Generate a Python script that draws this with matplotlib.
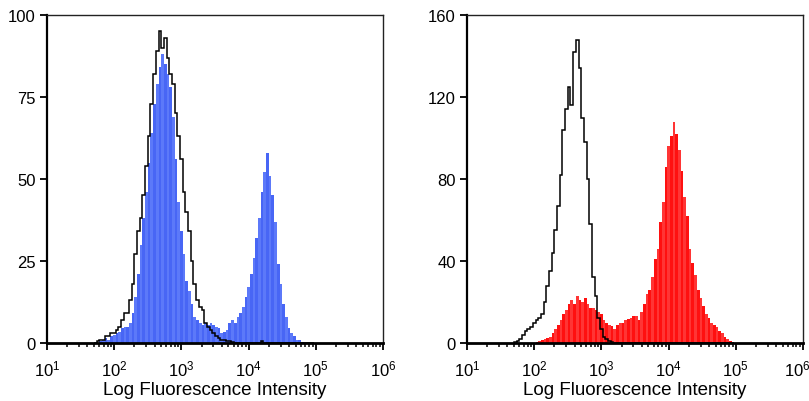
import numpy as np
import matplotlib
matplotlib.use("Agg")
import matplotlib.pyplot as plt
from matplotlib.ticker import LogLocator, FixedLocator
from matplotlib.transforms import ScaledTranslation

plt.rcParams['font.family'] = ['Liberation Sans', 'DejaVu Sans']
plt.rcParams['mathtext.fontset'] = 'custom'
plt.rcParams['mathtext.rm'] = 'Liberation Sans'
plt.rcParams['mathtext.it'] = 'Liberation Sans'

# channel centres (log10 of fluorescence), 0.04-decade channels
log_centres = np.round(1.72 + 0.04 * np.arange(82), 2)

# left panel
left_stained = [0, 0, 0.5, 1, 1.5, 1, 2, 2.5, 3, 3.5,
                4.5, 5, 5, 6, 9, 14, 21, 30, 38, 46,
                55, 64, 73, 79, 84, 88, 85, 82, 78, 69,
                56, 43, 34, 27, 19, 16, 12, 8, 7, 6,
                5.5, 6, 5.5, 6, 5.5, 5, 4.5, 3, 3.5, 4,
                6, 7, 6, 8, 9, 11, 14, 17, 21, 26,
                32, 38, 46, 52, 58, 51, 45, 37, 24, 18,
                12, 8, 4.5, 3, 2, 1, 0.8, 0.4, 0, 0,
                0, 0]
left_control = [0, 0.5, 1, 1, 2, 2, 3, 3, 4, 5,
                7, 9, 9, 13, 18, 27, 34, 38, 45, 54,
                63, 73, 82, 89, 95, 90, 93, 87, 82, 79,
                70, 63, 56, 46, 40, 34, 25, 18, 13, 11,
                10, 6, 5, 4, 3, 2, 1.5, 1, 1, 0.5,
                0.5, 0.3, 0, 0, 0, 0, 0, 0, 0, 0,
                0, 0, 0.5, 0, 0, 0, 0, 0, 0, 0,
                0, 0, 0, 0, 0, 0, 0, 0, 0, 0,
                0, 0]

# right panel
right_stained = [0, 0, 0, 0, 0, 0, 0, 0, 0.5, 1,
                 1.5, 2, 2.5, 3, 5, 7, 9, 11, 14, 16,
                 19, 21, 19, 23, 21, 20, 22, 19, 17, 17,
                 16, 15, 14, 11, 10, 9, 8.5, 7, 9, 10,
                 10, 11, 11.5, 12, 13, 13, 11, 15, 19, 24,
                 26, 32, 41, 46, 59, 69, 86, 96, 101, 108,
                 102, 94, 84, 71, 62, 46, 39, 33, 26, 22,
                 18, 14, 12, 10, 9, 8, 6, 5, 3, 2,
                 1, 0.5]
right_control = [0.5, 1, 2, 4, 6, 7, 8, 10, 11, 12,
                 14, 20, 28, 35, 44, 55, 67, 82, 104, 114,
                 125, 116, 142, 148, 134, 110, 98, 80, 58, 32,
                 23, 12, 7, 3, 2, 1, 0.5, 0, 0, 0,
                 0, 0, 0, 0, 0, 0, 0, 0, 0, 0,
                 0, 0, 0, 0, 0, 0, 0, 0, 0, 0,
                 0, 0, 0, 0, 0, 0, 0, 0, 0, 0,
                 0, 0, 0, 0, 0, 0, 0, 0, 0, 0,
                 0, 0]

left_yticks = [0, 25, 50, 75, 100]
right_yticks = [0, 40, 80, 120, 160]
x_label = "Log Fluorescence Intensity"

W, H = 809, 402
fig = plt.figure(figsize=(W / 100, H / 100), dpi=100)

edges = 10 ** np.concatenate([log_centres - 0.02, [log_centres[-1] + 0.02]])
lefts = edges[:-1]
widths = np.diff(edges)


def panel(rect, stained, control, colors, ymax, yticks):
    ax = fig.add_axes(rect)
    ax.set_xscale('log')
    stripe = [colors[i % 2] for i in range(len(stained))]
    ax.bar(lefts, stained, width=widths, align='edge', color=stripe,
           linewidth=0, zorder=2)
    ax.stairs(control, edges, color='black', linewidth=1.1, zorder=3)
    ax.set_xlim(10, 1e6)
    ax.set_ylim(0, ymax)
    ax.yaxis.set_major_locator(FixedLocator(yticks))
    ax.xaxis.set_major_locator(LogLocator(base=10, numticks=10))
    ax.xaxis.set_minor_locator(LogLocator(base=10, subs=np.arange(2, 10), numticks=20))
    ax.tick_params(axis='both', which='major', direction='out', length=5,
                   width=1.3, labelsize=12, pad=3, color='black')
    ax.tick_params(axis='x', which='minor', direction='out', length=3, width=1.1)
    ax.tick_params(axis='x', which='major', pad=6)
    for s in ('left', 'bottom'):
        ax.spines[s].set_linewidth(1.6)
        ax.spines[s].set_color('black')
    ax.spines['bottom'].set_linewidth(2.0)
    for s in ('top', 'right'):
        ax.spines[s].set_linewidth(1.0)
        ax.spines[s].set_color('#222222')
    ax.set_xlabel(x_label, fontsize=13.5, labelpad=2)
    return ax


ax_h = 328 / H
ax_b = (H - 344) / H
ax_l = panel([47 / W, ax_b, 336 / W, ax_h], left_stained, left_control,
             ['#4866f5', '#5c79f9'], 100, left_yticks)
ax_r = panel([467 / W, ax_b, 336 / W, ax_h], right_stained, right_control,
             ['#ff1010', '#ff3535'], 160, right_yticks)

# nudge the right-most tick label of the right panel inward (as in the reference)
fig.canvas.draw()
for tick in ax_r.xaxis.get_major_ticks():
    if np.isclose(tick.get_loc(), 1e6):
        lbl = tick.label1
        lbl.set_transform(lbl.get_transform() +
                          ScaledTranslation(-6 / 100, 0, fig.dpi_scale_trans))

fig.savefig('out.png', dpi=100)
